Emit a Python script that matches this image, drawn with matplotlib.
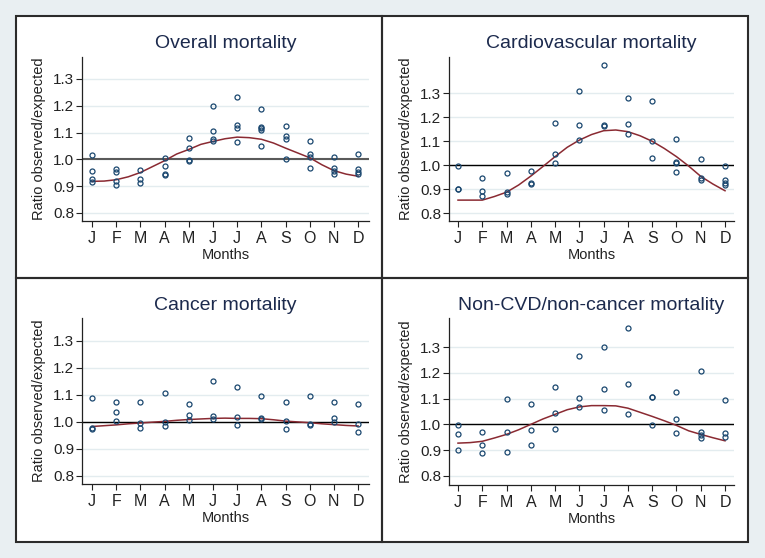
import matplotlib.pyplot as plt
from matplotlib.patches import Rectangle
import numpy as np

plt.rcParams['font.family'] = ['Liberation Sans', 'DejaVu Sans']

months = ['J', 'F', 'M', 'A', 'M', 'J', 'J', 'A', 'S', 'O', 'N', 'D']
titles = ['Overall mortality', 'Cardiovascular mortality',
          'Cancer mortality', 'Non-CVD/non-cancer mortality']

# observed/expected ratios, one list per month
overall_pts = [[1.015, 0.955, 0.925, 0.917], [0.965, 0.952, 0.918, 0.903],
               [0.960, 0.927, 0.913], [1.006, 0.975, 0.946, 0.942],
               [1.081, 1.044, 0.998, 0.993], [1.198, 1.107, 1.075, 1.070],
               [1.231, 1.129, 1.116, 1.065], [1.189, 1.122, 1.116, 1.111, 1.051],
               [1.124, 1.088, 1.076, 1.000], [1.067, 1.019, 1.010, 0.966],
               [1.010, 0.968, 0.955, 0.947], [1.019, 0.963, 0.953, 0.945]]
cardio_pts = [[0.998, 0.902, 0.900], [0.946, 0.890, 0.871],
              [0.967, 0.888, 0.879], [0.976, 0.925, 0.920],
              [1.175, 1.047, 1.010], [1.310, 1.167, 1.104],
              [1.415, 1.167, 1.164], [1.278, 1.169, 1.128],
              [1.267, 1.099, 1.029], [1.110, 1.014, 1.008, 0.972],
              [1.026, 0.944, 0.938], [0.997, 0.937, 0.925, 0.916]]
cancer_pts = [[1.087, 0.978, 0.974], [1.075, 1.036, 1.002],
              [1.073, 0.996, 0.979], [1.106, 1.001, 0.985],
              [1.066, 1.026, 1.007], [1.152, 1.022, 1.009],
              [1.129, 1.017, 0.990], [1.097, 1.014, 1.010],
              [1.075, 1.004, 0.975], [1.095, 0.994, 0.987],
              [1.075, 1.014, 0.999], [1.067, 0.991, 0.964]]
other_pts = [[0.996, 0.962, 0.900], [0.971, 0.921, 0.890],
             [1.100, 0.969, 0.892], [1.081, 0.979, 0.921],
             [1.147, 1.044, 0.981], [1.267, 1.102, 1.067],
             [1.300, 1.139, 1.055], [1.377, 1.157, 1.042],
             [1.108, 1.105, 0.999], [1.125, 1.020, 0.965],
             [1.207, 0.969, 0.960, 0.947], [1.093, 0.966, 0.951]]

# fitted seasonal curve, read every half month from J to D
overall_fit = [0.918, 0.919, 0.924, 0.935, 0.951, 0.973, 0.995, 1.020, 1.037, 1.056,
               1.067, 1.077, 1.083, 1.081, 1.075, 1.061, 1.042, 1.024, 1.006, 0.980,
               0.958, 0.945, 0.937]
cardio_fit = [0.854, 0.854, 0.854, 0.869, 0.887, 0.917, 0.954, 0.994, 1.035, 1.074,
              1.104, 1.127, 1.143, 1.146, 1.139, 1.122, 1.099, 1.069, 1.035, 0.996,
              0.953, 0.921, 0.893]
cancer_fit = [0.983, 0.986, 0.989, 0.993, 0.996, 0.999, 1.002, 1.006, 1.009, 1.011,
              1.013, 1.014, 1.013, 1.013, 1.012, 1.008, 1.003, 1.000, 0.997, 0.993,
              0.990, 0.987, 0.985]
other_fit = [0.927, 0.929, 0.934, 0.947, 0.961, 0.979, 1.000, 1.021, 1.039, 1.057,
             1.068, 1.073, 1.073, 1.072, 1.063, 1.047, 1.031, 1.014, 0.996, 0.975,
             0.961, 0.948, 0.936]

W, H = 765, 558
bg = '#e9eff2'
navy = '#1a476f'
maroon = '#8a2a32'

fig = plt.figure(figsize=(W / 100, H / 100), dpi=100, facecolor=bg)

fig.patches.append(Rectangle((16 / W, 1 - 542 / H), 732 / W, 526 / H, transform=fig.transFigure,
                             facecolor='white', edgecolor='none', zorder=-5))
for (x0, y0, x1, y1) in [(16, 16, 382, 278), (382, 16, 748, 278),
                         (16, 278, 382, 542), (382, 278, 748, 542)]:
    fig.patches.append(Rectangle((x0 / W, 1 - y1 / H), (x1 - x0) / W, (y1 - y0) / H,
                                 transform=fig.transFigure, fill=False,
                                 edgecolor='#2b2b2b', lw=1.5, zorder=1))

# left, right, top, bottom (px), ylim, xlim, title y, xlabel y
boxes = [(82, 369, 57, 221, (0.770, 1.382), (0.586, 12.45), 43, 255),
         (449, 734, 57, 221, (0.767, 1.450), (0.63, 12.37), 43, 255),
         (82, 369, 318, 484, (0.770, 1.385), (0.586, 12.45), 305, 518),
         (449, 734, 318, 485, (0.764, 1.414), (0.63, 12.37), 305, 519)]
all_pts = [overall_pts, cardio_pts, cancer_pts, other_pts]
all_fit = [overall_fit, cardio_fit, cancer_fit, other_fit]

for i in range(4):
    l, r, t, b, ylim, xlim, ty, xy = boxes[i]
    ax = fig.add_axes([l / W, 1 - b / H, (r - l) / W, (b - t) / H])
    ax.set_facecolor('none')
    for m, vals in enumerate(all_pts[i]):
        ax.plot([m + 1] * len(vals), vals, 'o', ms=3.6, mfc='none', mec=navy, mew=0.9, zorder=4)
    fit_x = np.linspace(1, 12, len(all_fit[i]))
    ax.plot(fit_x, all_fit[i], color=maroon, lw=1.1, zorder=3)
    if i == 0:
        ax.axhline(1.0, color='#5a5a5a', lw=1.5, zorder=2)
    else:
        ax.axhline(1.0, color='black', lw=1.0, zorder=2)
    ax.set_xlim(*xlim)
    ax.set_ylim(*ylim)
    ax.set_yticks([0.8, 0.9, 1.0, 1.1, 1.2, 1.3])
    ax.set_yticklabels(['0.8', '0.9', '1.0', '1.1', '1.2', '1.3'])
    ax.set_xticks(range(1, 13))
    ax.set_xticklabels(months)
    ax.grid(axis='y', color='#e3ecef', lw=1.0, zorder=0)
    for s in ['top', 'right']:
        ax.spines[s].set_visible(False)
    for s in ['left', 'bottom']:
        ax.spines[s].set_color('#222222')
        ax.spines[s].set_linewidth(0.9)
    ax.tick_params(axis='y', length=4, width=0.8, pad=1.5, labelsize=11, colors='#222222')
    ax.tick_params(axis='x', length=4, width=0.8, pad=3.5, labelsize=11.5, colors='#222222')
    cx = (l + r) / 2 / W
    fig.text(cx, 1 - ty / H, titles[i], ha='center', va='center', fontsize=14, color='#1c2a4d')
    fig.text(cx, 1 - xy / H, 'Months', ha='center', va='center', fontsize=10.5, color='#222222')
    fig.text((l - 43) / W, 1 - (t + b) / 2 / H, 'Ratio observed/expected', rotation=90,
             ha='center', va='center', fontsize=10.5, color='#222222')

fig.savefig('out.png', dpi=100, facecolor=bg)
